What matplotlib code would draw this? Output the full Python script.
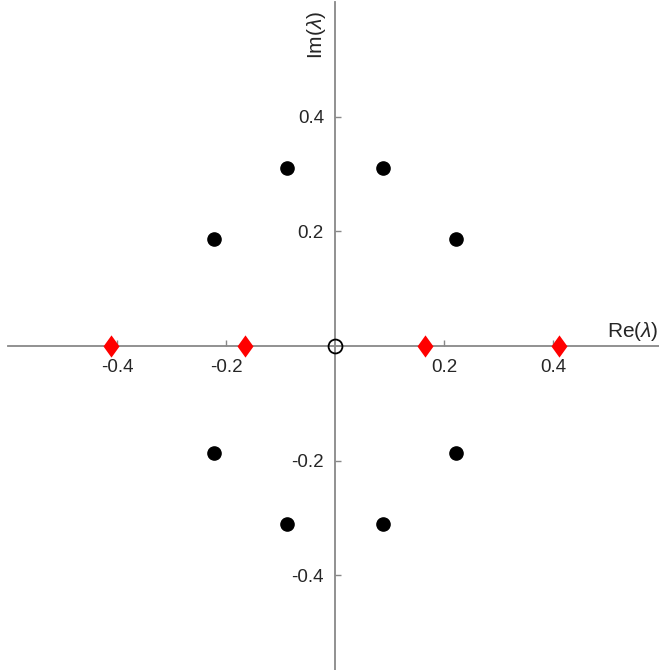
import matplotlib.pyplot as plt
import numpy as np

plt.rcParams['font.family'] = ['Liberation Sans', 'DejaVu Sans']
plt.rcParams['mathtext.fontset'] = 'custom'
plt.rcParams['mathtext.it'] = 'Liberation Sans:italic'
plt.rcParams['mathtext.rm'] = 'Liberation Sans'

# complex eigenvalues (filled dots)
cplx_re = [-0.0885, 0.0885, -0.2225, 0.2225, -0.2225, 0.2225, -0.0885, 0.0885]
cplx_im = [0.311, 0.311, 0.187, 0.187, -0.187, -0.187, -0.311, -0.311]
# real eigenvalues (red diamonds)
real_re = [-0.411, -0.166, 0.166, 0.411]
real_im = [0.0, 0.0, 0.0, 0.0]
# zero eigenvalue (open circle)
zero_re = [0.0]
zero_im = [0.0]

xticks = [-0.4, -0.2, 0.2, 0.4]
yticks = [-0.4, -0.2, 0.2, 0.4]

axcol = '#888888'
txtcol = '#262626'

# diamond a bit wider than matplotlib's 'd'
diamond = [(0, 1), (0.72, 0), (0, -1), (-0.72, 0), (0, 1)]

fig = plt.figure(figsize=(6.59, 6.70), dpi=100)
ax = fig.add_axes([8/659, 1 - 689.8/670, 654/659, 687.6/670])
ax.set_xlim(-0.6, 0.6)
ax.set_ylim(-0.6, 0.6)

ax.plot(cplx_re, cplx_im, 'o', color='black', markersize=9.5, linestyle='none', zorder=3)
ax.plot(real_re, real_im, marker=diamond, color='red', markersize=16, markeredgewidth=0,
        linestyle='none', zorder=3)
ax.plot(zero_re, zero_im, 'o', markerfacecolor='none', markeredgecolor='black',
        markersize=10, markeredgewidth=1.3, linestyle='none', zorder=3)

# axes through the origin
for s in ['top', 'right']:
    ax.spines[s].set_visible(False)
ax.spines['left'].set_position('zero')
ax.spines['bottom'].set_position('zero')
ax.spines['left'].set_color(axcol)
ax.spines['bottom'].set_color(axcol)
ax.spines['left'].set_linewidth(1.3)
ax.spines['bottom'].set_linewidth(1.3)

ax.set_xticks(xticks)
ax.set_yticks(yticks)
ax.set_xticklabels(['%g' % v for v in xticks])
ax.set_yticklabels(['%g' % v for v in yticks])
ax.tick_params(direction='in', length=4, width=1, color=axcol, labelcolor=txtcol, labelsize=13.5)
ax.tick_params(axis='x', pad=9)
ax.tick_params(axis='y', pad=8)

ax.text(0.594, 0.006, r'Re($\lambda$)', ha='right', va='bottom', fontsize=15, color=txtcol)
ax.text(-0.013, 0.585, r'Im($\lambda$)', ha='right', va='top', rotation=90, fontsize=15, color=txtcol)

fig.savefig('out.png', dpi=100)
